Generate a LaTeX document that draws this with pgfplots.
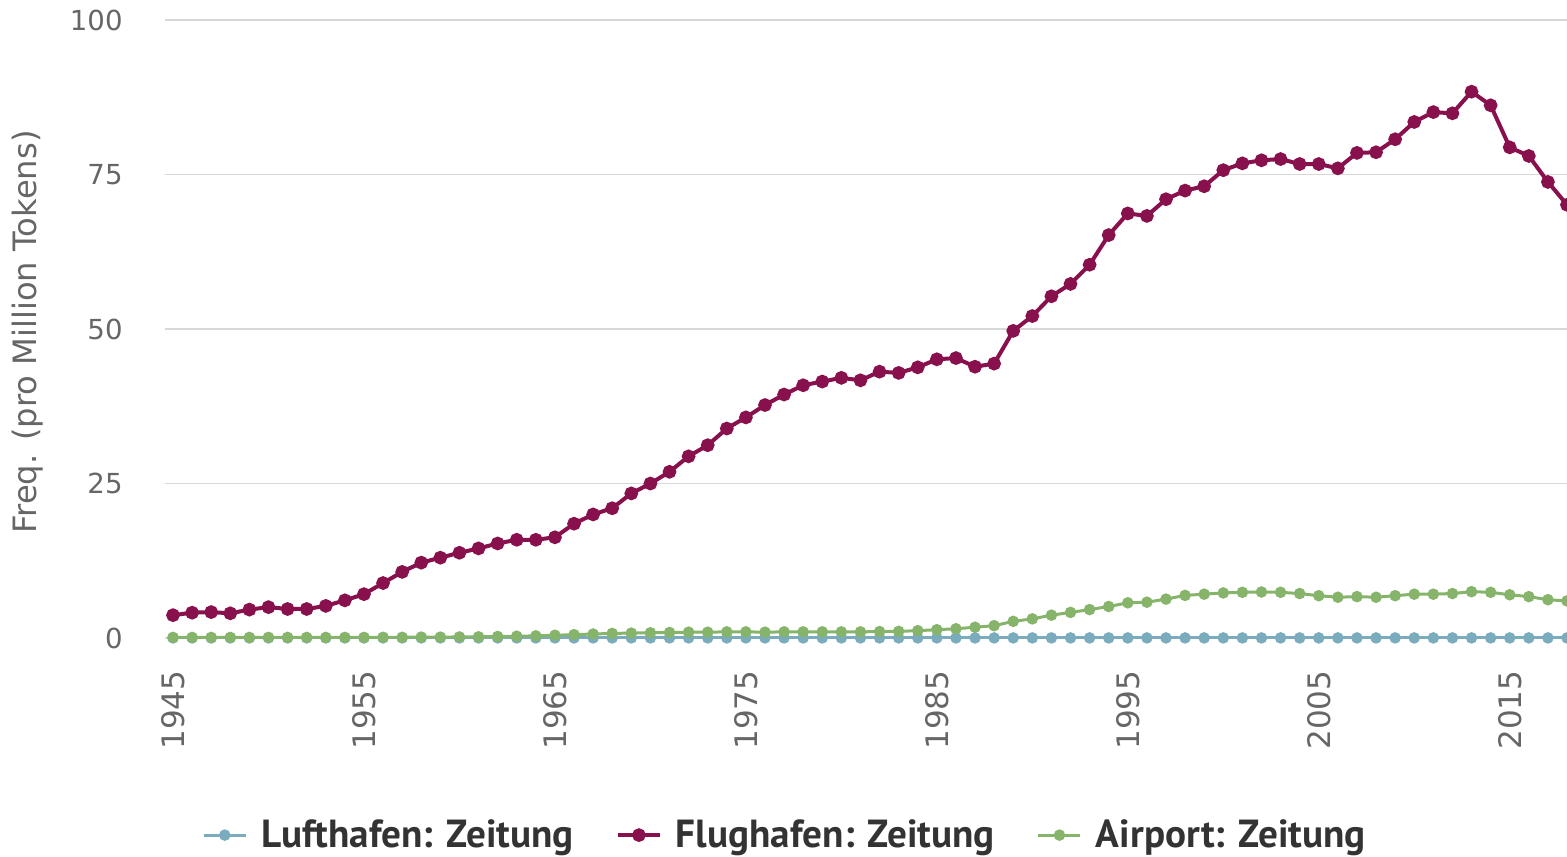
\documentclass[border=0pt]{standalone}
\usepackage{pgfplots}
\pgfplotsset{compat=1.18}
\usepackage{pgfplotstable}
\usepackage{fontspec}
\setmainfont{DejaVu Sans}
\newfontfamily\legfont{PT Sans}
\definecolor{cluft}{RGB}{122,172,190}
\definecolor{cflug}{RGB}{136,16,76}
\definecolor{cair}{RGB}{134,180,107}
\definecolor{txtgray}{RGB}{102,102,102}
\definecolor{legtext}{RGB}{51,51,51}
\definecolor{gridgray}{RGB}{216,216,216}

\pgfplotstableread{
year luft flug air
1945 0.02 3.7 0.10
1946 0.02 4.1 0.10
1947 0.02 4.2 0.10
1948 0.02 4.0 0.10
1949 0.02 4.6 0.10
1950 0.02 5.0 0.10
1951 0.02 4.7 0.10
1952 0.02 4.7 0.10
1953 0.02 5.2 0.10
1954 0.02 6.1 0.10
1955 0.02 7.1 0.10
1956 0.02 8.9 0.12
1957 0.02 10.7 0.12
1958 0.02 12.2 0.15
1959 0.02 13.0 0.15
1960 0.02 13.8 0.18
1961 0.02 14.5 0.20
1962 0.02 15.3 0.25
1963 0.02 15.9 0.30
1964 0.02 15.9 0.35
1965 0.02 16.3 0.45
1966 0.02 18.5 0.55
1967 0.02 20.0 0.65
1968 0.02 21.0 0.75
1969 0.02 23.4 0.80
1970 0.02 25.0 0.85
1971 0.02 26.9 0.90
1972 0.02 29.4 0.95
1973 0.02 31.2 0.95
1974 0.02 33.9 1.00
1975 0.02 35.7 1.00
1976 0.02 37.7 0.95
1977 0.02 39.4 1.00
1978 0.02 40.9 1.00
1979 0.02 41.5 1.00
1980 0.02 42.1 1.00
1981 0.02 41.7 1.00
1982 0.02 43.1 1.05
1983 0.02 42.9 1.08
1984 0.02 43.8 1.19
1985 0.02 45.1 1.35
1986 0.02 45.3 1.50
1987 0.02 43.9 1.75
1988 0.02 44.4 2.00
1989 0.02 49.7 2.70
1990 0.02 52.1 3.10
1991 0.02 55.3 3.70
1992 0.02 57.3 4.15
1993 0.02 60.4 4.60
1994 0.02 65.2 5.10
1995 0.02 68.7 5.70
1996 0.02 68.3 5.80
1997 0.02 71.0 6.30
1998 0.02 72.4 6.90
1999 0.02 73.1 7.10
2000 0.02 75.7 7.30
2001 0.02 76.8 7.40
2002 0.02 77.3 7.45
2003 0.02 77.5 7.40
2004 0.02 76.7 7.20
2005 0.02 76.7 6.85
2006 0.02 76.0 6.60
2007 0.02 78.5 6.70
2008 0.02 78.6 6.60
2009 0.02 80.7 6.85
2010 0.02 83.5 7.10
2011 0.02 85.1 7.10
2012 0.02 84.9 7.20
2013 0.02 88.4 7.50
2014 0.02 86.2 7.40
2015 0.02 79.4 7.00
2016 0.02 78.0 6.70
2017 0.02 73.8 6.20
2018 0.02 70.1 6.00
}\data

\begin{document}
\begin{tikzpicture}
\begin{axis}[
  name=ax,
  scale only axis,
  width=701pt, height=315.2pt,
  xmin=1944.58, xmax=2018, ymin=-2, ymax=100,
  axis line style={draw=none},
  major tick length=0pt,
  ymajorgrids,
  grid style={gridgray, line width=0.75pt},
  xtick={1945,1955,...,2015},
  ytick={0,25,50,75,100},
  /pgf/number format/1000 sep={},
  /pgf/number format/assume math mode=true,
  xticklabel style={rotate=90, anchor=east, inner sep=0pt, font=\fontsize{15.5}{16}\selectfont, text=txtgray},
  xticklabel shift=10pt,
  yticklabel style={anchor=east, inner sep=0pt, font=\fontsize{13.8}{14}\selectfont, text=txtgray, xshift=-21pt},
  ylabel={Freq. (pro Million Tokens)},
  ylabel style={at={(axis description cs:-0.0977,0.505)}, anchor=center, font=\fontsize{16.1}{17}\selectfont, text=txtgray},
  legend style={at={(axis description cs:0.443,-0.293)}, anchor=center, draw=none, fill=none,
    font=\legfont\bfseries\fontsize{19.6}{20}\selectfont, text=legtext,
    /tikz/every even column/.append style={column sep=19pt}},
  legend columns=3,
  legend image code/.code={\draw[#1, mark repeat=2, mark phase=2] plot coordinates {(0pt,0pt) (10.5pt,0pt) (21pt,0pt)};},
  clip=true,
]
\addplot[cluft, line width=1.5pt, mark=*, mark size=2.1pt, mark options={solid, fill=cluft, draw=none}] table[x=year, y=luft] {\data};
\addlegendentry{\hspace{5pt}Lufthafen: Zeitung}
\addplot[cflug, line width=2pt, mark=*, mark size=2.4pt, mark options={solid, fill=cflug, draw=none}] table[x=year, y=flug] {\data};
\addlegendentry{\hspace{5pt}Flughafen: Zeitung}
\addplot[cair, line width=1.5pt, mark=*, mark size=2.1pt, mark options={solid, fill=cair, draw=none}] table[x=year, y=air] {\data};
\addlegendentry{\hspace{5pt}Airport: Zeitung}
\end{axis}
\pgfresetboundingbox
\path[use as bounding box] ([xshift=-82.5pt, yshift=-103.3pt]ax.south west) rectangle ([yshift=10pt]ax.north east);
\end{tikzpicture}
\end{document}
